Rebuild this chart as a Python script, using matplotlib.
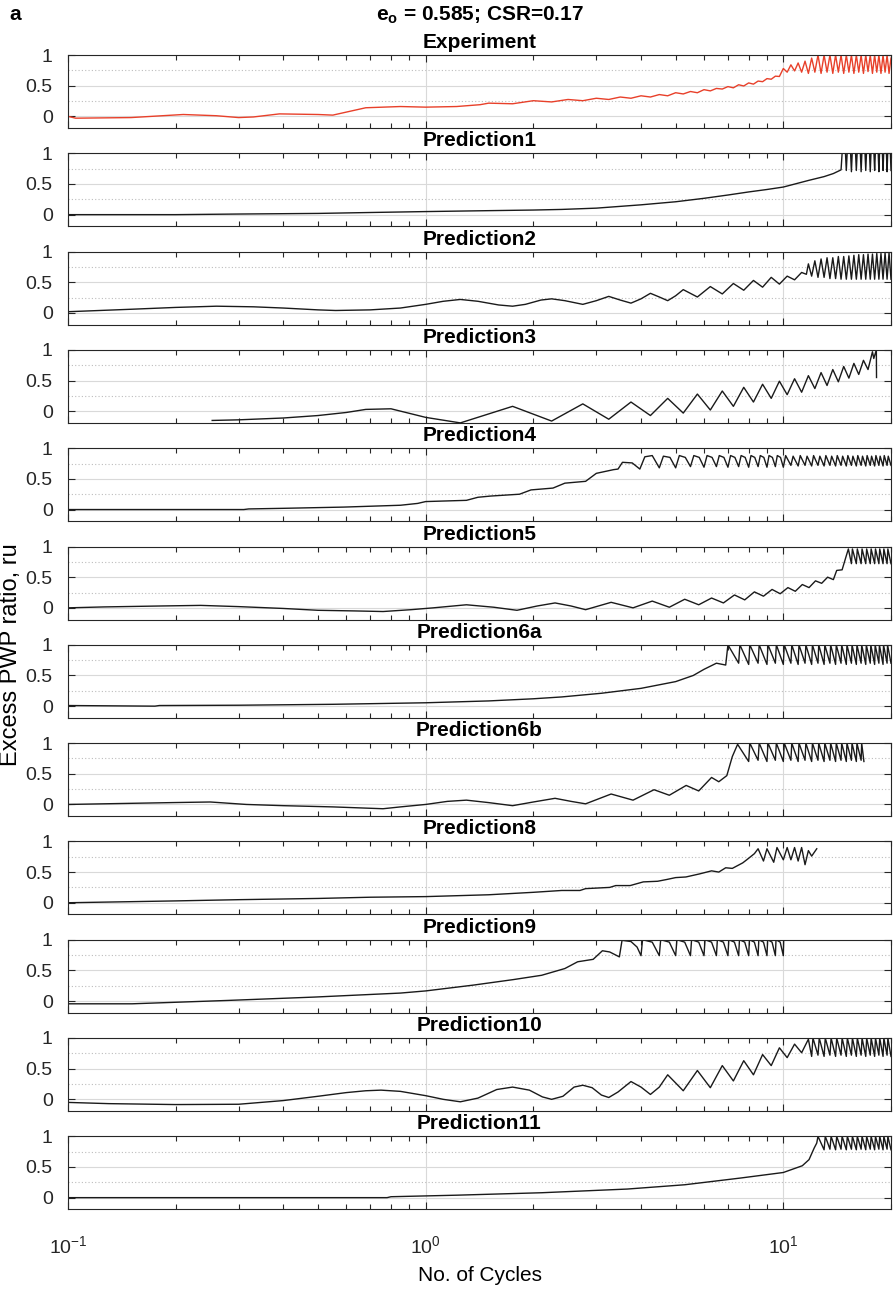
import matplotlib
matplotlib.use("Agg")
import matplotlib.pyplot as plt
from matplotlib.ticker import FixedLocator, LogLocator, NullFormatter

plt.rcParams['font.family'] = ['Liberation Sans', 'DejaVu Sans']
plt.rcParams['mathtext.fontset'] = 'custom'
plt.rcParams['mathtext.rm'] = 'Liberation Sans'
plt.rcParams['mathtext.bf'] = 'Liberation Sans:bold'

# (No. of cycles, ru), one list per panel
experiment = [
    (0.1, 0.0), (0.105, -0.03), (0.15, -0.02), (0.21, 0.03), (0.26, 0.01), (0.30, -0.02),
    (0.33, -0.01), (0.39, 0.04), (0.50, 0.03), (0.55, 0.02), (0.68, 0.14), (0.85, 0.16),
    (1.0, 0.15), (1.22, 0.16), (1.42, 0.19),
    (1.5, 0.215), (1.75, 0.205), (2.0, 0.255), (2.25, 0.235), (2.5, 0.275), (2.75, 0.255),
    (3.0, 0.295), (3.25, 0.275), (3.5, 0.315), (3.75, 0.295), (4.0, 0.335), (4.25, 0.315),
    (4.5, 0.355), (4.75, 0.335), (5.0, 0.385), (5.25, 0.365), (5.5, 0.405), (5.75, 0.385),
    (6.0, 0.435), (6.25, 0.415), (6.5, 0.455), (6.75, 0.445), (7.0, 0.485), (7.25, 0.465),
    (7.5, 0.515), (7.75, 0.495), (8.0, 0.545), (8.25, 0.525), (8.5, 0.575), (8.75, 0.565),
    (9.0, 0.615), (9.25, 0.605), (9.5, 0.655), (9.75, 0.65),
    (10.0, 0.78), (10.25, 0.72), (10.5, 0.84), (10.75, 0.74), (11.0, 0.87), (11.25, 0.72),
    (11.5, 0.90), (11.75, 0.70), (12.0, 0.95), (12.25, 0.72), (12.5, 1.0), (12.75, 0.70),
    (13.0, 1.0), (13.25, 0.72), (13.5, 1.0), (13.75, 0.70), (14.0, 1.0), (14.25, 0.72),
    (14.5, 1.0), (14.75, 0.70), (15.0, 1.0), (15.25, 0.72), (15.5, 1.0), (15.75, 0.70),
    (16.0, 1.0), (16.25, 0.72), (16.5, 1.0), (16.75, 0.70), (17.0, 1.0), (17.25, 0.73),
    (17.5, 1.0), (17.75, 0.70), (18.0, 1.0), (18.25, 0.72), (18.5, 1.0), (18.75, 0.70),
    (19.0, 1.0), (19.25, 0.72), (19.5, 1.0), (19.75, 0.70), (20.0, 0.95),
]

prediction1 = [
    (0.1, 0.0), (0.2, 0.0), (0.3, 0.01), (0.5, 0.02), (0.7, 0.035), (1.0, 0.05), (1.5, 0.065),
    (2.0, 0.075), (2.4, 0.085), (3.0, 0.106), (4.0, 0.16), (5.0, 0.21), (6.0, 0.266),
    (7.0, 0.32), (8.0, 0.37), (9.0, 0.41), (10.0, 0.45), (11.8, 0.56), (13.0, 0.62),
    (13.8, 0.67), (14.5, 0.73),
    (14.6, 1.0), (14.92, 1.0), (15.0, 0.72), (15.08, 1.0), (15.42, 1.0), (15.5, 0.70),
    (15.58, 1.0), (15.92, 1.0), (16.0, 0.72), (16.08, 1.0), (16.42, 1.0), (16.5, 0.70),
    (16.58, 1.0), (16.92, 1.0), (17.0, 0.72), (17.08, 1.0), (17.42, 1.0), (17.5, 0.70),
    (17.58, 1.0), (17.92, 1.0), (18.0, 0.72), (18.08, 1.0), (18.42, 1.0), (18.5, 0.70),
    (18.58, 1.0), (18.92, 1.0), (19.0, 0.72), (19.08, 1.0), (19.42, 1.0), (19.5, 0.70),
    (19.58, 1.0), (19.92, 1.0), (20.0, 0.72),
]

prediction2 = [
    (0.1, 0.02), (0.15, 0.06), (0.2, 0.09), (0.26, 0.11), (0.33, 0.10), (0.4, 0.08),
    (0.5, 0.05), (0.56, 0.04), (0.7, 0.05), (0.85, 0.08), (1.0, 0.14), (1.12, 0.19),
    (1.25, 0.22), (1.4, 0.19), (1.6, 0.13), (1.75, 0.11), (1.9, 0.14), (2.1, 0.21),
    (2.25, 0.23), (2.45, 0.2), (2.75, 0.14), (3.0, 0.2), (3.25, 0.27), (3.5, 0.21),
    (3.75, 0.16), (4.0, 0.23), (4.25, 0.32), (4.5, 0.26), (4.75, 0.20), (5.0, 0.28),
    (5.25, 0.38), (5.75, 0.26), (6.25, 0.43), (6.75, 0.31),
    (7.25, 0.48), (7.75, 0.37), (8.25, 0.53), (8.75, 0.42), (9.25, 0.58), (9.75, 0.47),
    (10.25, 0.60), (10.75, 0.54), (11.25, 0.66), (11.6, 0.63),
    (11.75, 0.80), (12.0, 0.60), (12.25, 0.85), (12.5, 0.58), (12.75, 0.88), (13.0, 0.58),
    (13.25, 0.90), (13.5, 0.56), (13.75, 0.90), (14.0, 0.56), (14.25, 0.92), (14.5, 0.55),
    (14.75, 0.92), (15.0, 0.55), (15.25, 0.93), (15.5, 0.55), (15.75, 0.94), (16.0, 0.55),
    (16.25, 0.95), (16.5, 0.55), (16.75, 0.95), (17.0, 0.55), (17.25, 0.96), (17.5, 0.55),
    (17.75, 0.96), (18.0, 0.55), (18.25, 0.97), (18.5, 0.55), (18.75, 0.97), (19.0, 0.55),
    (19.25, 0.98), (19.5, 0.55), (19.75, 0.98), (20.0, 0.55),
]

prediction3 = [
    (0.253, -0.15), (0.3, -0.14), (0.4, -0.11), (0.5, -0.07), (0.6, -0.02), (0.68, 0.03),
    (0.8, 0.04), (1.0, -0.10), (1.25, -0.19), (1.75, 0.08), (2.25, -0.16), (2.75, 0.12),
    (3.25, -0.13), (3.75, 0.15), (4.25, -0.07), (4.75, 0.21), (5.25, -0.03), (5.75, 0.28),
    (6.25, 0.02), (6.75, 0.33), (7.25, 0.08), (7.75, 0.39), (8.25, 0.15), (8.75, 0.44),
    (9.25, 0.21), (9.75, 0.49), (10.25, 0.27), (10.75, 0.53), (11.25, 0.31), (11.75, 0.58),
    (12.25, 0.37), (12.75, 0.63), (13.25, 0.42), (13.75, 0.68), (14.25, 0.48), (14.75, 0.73),
    (15.25, 0.54), (15.75, 0.78), (16.25, 0.60), (16.75, 0.83), (17.25, 0.68), (17.75, 0.97),
    (17.9, 0.86), (18.2, 1.0), (18.22, 0.55),
]

prediction4 = [
    (0.1, 0.0), (0.31, 0.0), (0.32, 0.01), (0.4, 0.02), (0.59, 0.04), (0.85, 0.07),
    (0.95, 0.10), (1.0, 0.13), (1.3, 0.15), (1.4, 0.20), (1.52, 0.22), (1.83, 0.25),
    (1.97, 0.32), (2.27, 0.35), (2.45, 0.43), (2.8, 0.46), (3.0, 0.59), (3.35, 0.65),
    (3.45, 0.66), (3.55, 0.77), (3.78, 0.76), (3.97, 0.66),
    (4.1, 0.86), (4.3, 0.88), (4.5, 0.68), (4.62, 0.87), (4.82, 0.85), (5.0, 0.68),
    (5.12, 0.88), (5.32, 0.85), (5.5, 0.70), (5.62, 0.88), (5.82, 0.85), (6.0, 0.69),
    (6.12, 0.88), (6.32, 0.85), (6.5, 0.70), (6.62, 0.88), (6.82, 0.85), (7.0, 0.69),
    (7.12, 0.88), (7.32, 0.85), (7.5, 0.70), (7.62, 0.88), (7.82, 0.85), (8.0, 0.69),
    (8.12, 0.88), (8.32, 0.85), (8.5, 0.70), (8.62, 0.88), (8.82, 0.85), (9.0, 0.69),
    (9.12, 0.88), (9.32, 0.85), (9.5, 0.70), (9.62, 0.88), (9.82, 0.85), (10.0, 0.69),
    (10.15, 0.88), (10.5, 0.72), (10.65, 0.87), (11.0, 0.71), (11.15, 0.88), (11.5, 0.72),
    (11.65, 0.87), (12.0, 0.71), (12.15, 0.88), (12.5, 0.72), (12.65, 0.87), (13.0, 0.71),
    (13.15, 0.88), (13.5, 0.72), (13.65, 0.87), (14.0, 0.71), (14.15, 0.88), (14.5, 0.72),
    (14.65, 0.87), (15.0, 0.71), (15.15, 0.88), (15.5, 0.72), (15.65, 0.87), (16.0, 0.71),
    (16.15, 0.88), (16.5, 0.72), (16.65, 0.87), (17.0, 0.71), (17.15, 0.88), (17.5, 0.72),
    (17.65, 0.87), (18.0, 0.71), (18.15, 0.88), (18.5, 0.72), (18.65, 0.87), (19.0, 0.71),
    (19.15, 0.88), (19.5, 0.72), (19.65, 0.87), (20.0, 0.72),
]

prediction5 = [
    (0.1, 0.0), (0.126, 0.015), (0.18, 0.03), (0.235, 0.04), (0.3, 0.02), (0.4, -0.01),
    (0.5, -0.04), (0.63, -0.05), (0.76, -0.06), (0.91, -0.03), (1.05, 0.0), (1.3, 0.05),
    (1.55, 0.01), (1.8, -0.04), (2.05, 0.03), (2.3, 0.08), (2.55, 0.03), (2.8, -0.03),
    (3.3, 0.09), (3.8, 0.0), (4.3, 0.11), (4.8, 0.01), (5.3, 0.14), (5.8, 0.05),
    (6.3, 0.16), (6.8, 0.08), (7.3, 0.21), (7.8, 0.13), (8.3, 0.26), (8.8, 0.19),
    (9.3, 0.30), (9.8, 0.23), (10.3, 0.33), (10.8, 0.27), (11.3, 0.38), (11.8, 0.33),
    (12.3, 0.44), (12.8, 0.40), (13.3, 0.50), (13.8, 0.46), (14.1, 0.61), (14.6, 0.62),
    (15.0, 0.85), (15.2, 0.96), (15.5, 0.72), (15.6, 0.96), (16.0, 0.72), (16.1, 0.96),
    (16.5, 0.72), (16.6, 0.96), (17.0, 0.72), (17.1, 0.96), (17.5, 0.72), (17.6, 0.96),
    (18.0, 0.72), (18.1, 0.96), (18.5, 0.72), (18.6, 0.96), (19.0, 0.72), (19.1, 0.96),
    (19.5, 0.72), (19.6, 0.96), (20.0, 0.72),
]

prediction6a = [
    (0.1, 0.01), (0.175, 0.0), (0.18, 0.01), (0.3, 0.015), (0.55, 0.03), (1.0, 0.055),
    (1.5, 0.085), (2.0, 0.12), (2.4, 0.15), (3.1, 0.21), (4.0, 0.29), (5.0, 0.40),
    (5.6, 0.50), (6.0, 0.60), (6.5, 0.70), (6.9, 0.67), (7.0, 1.0),
    (7.5, 0.70), (7.56, 1.0), (8.0, 0.68), (8.06, 1.0), (8.5, 0.70), (8.56, 1.0),
    (9.0, 0.68), (9.06, 1.0), (9.5, 0.70), (9.56, 1.0), (10.0, 0.68), (10.06, 1.0),
    (10.5, 0.70), (10.56, 1.0), (11.0, 0.68), (11.06, 1.0), (11.5, 0.70), (11.56, 1.0),
    (12.0, 0.68), (12.06, 1.0), (12.5, 0.70), (12.56, 1.0), (13.0, 0.68), (13.06, 1.0),
    (13.5, 0.70), (13.56, 1.0), (14.0, 0.68), (14.06, 1.0), (14.5, 0.70), (14.56, 1.0),
    (15.0, 0.68), (15.06, 1.0), (15.5, 0.70), (15.56, 1.0), (16.0, 0.68), (16.06, 1.0),
    (16.5, 0.70), (16.56, 1.0), (17.0, 0.68), (17.06, 1.0), (17.5, 0.70), (17.56, 1.0),
    (18.0, 0.68), (18.06, 1.0), (18.5, 0.70), (18.56, 1.0), (19.0, 0.68), (19.06, 1.0),
    (19.5, 0.70), (19.56, 1.0), (20.0, 0.70),
]

prediction6b = [
    (0.1, 0.0), (0.195, 0.03), (0.25, 0.04), (0.315, 0.0), (0.4, -0.02), (0.55, -0.04),
    (0.76, -0.07), (0.85, -0.04), (1.0, 0.0), (1.15, 0.05), (1.3, 0.07), (1.5, 0.03),
    (1.75, -0.02), (2.0, 0.04), (2.3, 0.10), (2.55, 0.05), (2.8, 0.01), (3.3, 0.17),
    (3.8, 0.07), (4.35, 0.24), (4.8, 0.15), (5.35, 0.31), (5.8, 0.22), (6.3, 0.44),
    (6.6, 0.37), (6.95, 0.47), (7.2, 0.78), (7.45, 0.98),
    (8.0, 0.70), (8.06, 1.0), (8.5, 0.72), (8.56, 1.0), (9.0, 0.70), (9.06, 1.0),
    (9.5, 0.72), (9.56, 1.0), (10.0, 0.70), (10.06, 1.0), (10.5, 0.72), (10.56, 1.0),
    (11.0, 0.70), (11.06, 1.0), (11.5, 0.72), (11.56, 1.0), (12.0, 0.70), (12.06, 1.0),
    (12.5, 0.72), (12.56, 1.0), (13.0, 0.70), (13.06, 1.0), (13.5, 0.72), (13.56, 1.0),
    (14.0, 0.70), (14.06, 1.0), (14.5, 0.72), (14.56, 1.0), (15.0, 0.70), (15.06, 1.0),
    (15.5, 0.72), (15.56, 1.0), (16.0, 0.70), (16.06, 1.0), (16.5, 0.72), (16.56, 1.0),
    (16.8, 0.70),
]

prediction8 = [
    (0.1, 0.0), (0.2, 0.03), (0.3, 0.05), (0.5, 0.07), (0.7, 0.09), (1.0, 0.10), (1.5, 0.13),
    (2.0, 0.17), (2.4, 0.20), (2.7, 0.20), (2.8, 0.23), (3.27, 0.25), (3.4, 0.28),
    (3.73, 0.28), (4.06, 0.34), (4.45, 0.35), (4.73, 0.38), (5.0, 0.41), (5.34, 0.42),
    (5.83, 0.47), (6.3, 0.52), (6.6, 0.50), (6.9, 0.57), (7.2, 0.56), (7.7, 0.65),
    (7.9, 0.70), (8.3, 0.80), (8.5, 0.88), (8.8, 0.68), (9.0, 0.88), (9.4, 0.66),
    (9.6, 0.90), (10.0, 0.70), (10.25, 0.90), (10.5, 0.70), (10.75, 0.90), (11.0, 0.68),
    (11.25, 0.90), (11.5, 0.62), (11.75, 0.85), (12.0, 0.76), (12.4, 0.88),
]

prediction9 = [
    (0.1, -0.045), (0.151, -0.045), (0.28, 0.01), (0.49, 0.065), (0.85, 0.13), (1.0, 0.165),
    (1.36, 0.26), (1.76, 0.35), (2.11, 0.42), (2.45, 0.53), (2.66, 0.64), (2.94, 0.68),
    (3.12, 0.82), (3.27, 0.80), (3.48, 0.72), (3.54, 0.99), (3.75, 0.97), (3.9, 0.88),
    (4.0, 0.74),
    (4.04, 1.0), (4.3, 0.96), (4.5, 0.74), (4.54, 1.0), (4.8, 0.96), (5.0, 0.74),
    (5.04, 1.0), (5.3, 0.96), (5.5, 0.74), (5.54, 1.0), (5.8, 0.96), (6.0, 0.74),
    (6.04, 1.0), (6.3, 0.96), (6.5, 0.74), (6.54, 1.0), (6.8, 0.96), (7.0, 0.74),
    (7.04, 1.0), (7.3, 0.96), (7.5, 0.74), (7.54, 1.0), (7.8, 0.96), (8.0, 0.74),
    (8.04, 1.0), (8.3, 0.96), (8.5, 0.74), (8.54, 1.0), (8.8, 0.96), (9.0, 0.74),
    (9.04, 1.0), (9.3, 0.96), (9.5, 0.74), (9.54, 1.0), (9.8, 0.96), (10.0, 0.74),
    (10.02, 0.98),
]

prediction10 = [
    (0.1, -0.05), (0.13, -0.07), (0.2, -0.085), (0.3, -0.08), (0.4, -0.02), (0.5, 0.05),
    (0.6, 0.11), (0.68, 0.14), (0.75, 0.15), (0.85, 0.13), (1.0, 0.06), (1.12, 0.0),
    (1.25, -0.04), (1.4, 0.02), (1.58, 0.16), (1.75, 0.20), (1.95, 0.15), (2.12, 0.04),
    (2.25, 0.0), (2.42, 0.05), (2.6, 0.2), (2.75, 0.23), (2.92, 0.19), (3.1, 0.07),
    (3.25, 0.03), (3.45, 0.12), (3.75, 0.29), (4.0, 0.2), (4.25, 0.08), (4.5, 0.2),
    (4.75, 0.40), (5.25, 0.14), (5.75, 0.47), (6.25, 0.19),
    (6.75, 0.55), (7.25, 0.30), (7.75, 0.63), (8.25, 0.40), (8.75, 0.73), (9.25, 0.55),
    (9.75, 0.84), (10.25, 0.68), (10.75, 0.90), (11.25, 0.76), (11.75, 0.98),
    (12.0, 0.70), (12.1, 1.0), (12.5, 0.72), (12.6, 1.0), (13.0, 0.70), (13.1, 1.0),
    (13.5, 0.72), (13.6, 1.0), (14.0, 0.70), (14.1, 1.0), (14.5, 0.72), (14.6, 1.0),
    (15.0, 0.70), (15.1, 1.0), (15.5, 0.72), (15.6, 1.0), (16.0, 0.70), (16.1, 1.0),
    (16.5, 0.72), (16.6, 1.0), (17.0, 0.70), (17.1, 1.0), (17.5, 0.72), (17.6, 1.0),
    (18.0, 0.70), (18.1, 1.0), (18.5, 0.72), (18.6, 1.0), (19.0, 0.70), (19.1, 1.0),
    (19.5, 0.72), (19.6, 1.0), (20.0, 0.70),
]

prediction11 = [
    (0.1, 0.0), (0.78, 0.0), (0.8, 0.015), (1.22, 0.04), (2.11, 0.08), (3.66, 0.14),
    (5.3, 0.21), (7.6, 0.32), (10.0, 0.41), (11.3, 0.52), (11.8, 0.62), (12.2, 0.81),
    (12.4, 0.89), (12.5, 1.0), (13.0, 0.78), (13.1, 1.0), (13.5, 0.79), (13.6, 1.0),
    (14.0, 0.78), (14.1, 1.0), (14.5, 0.79), (14.6, 1.0), (15.0, 0.78), (15.1, 1.0),
    (15.5, 0.79), (15.6, 1.0), (16.0, 0.78), (16.1, 1.0), (16.5, 0.79), (16.6, 1.0),
    (17.0, 0.78), (17.1, 1.0), (17.5, 0.79), (17.6, 1.0), (18.0, 0.78), (18.1, 1.0),
    (18.5, 0.79), (18.6, 1.0), (19.0, 0.78), (19.1, 1.0), (19.5, 0.79), (19.6, 1.0),
    (20.0, 0.78),
]

titles = ['Experiment', 'Prediction1', 'Prediction2', 'Prediction3', 'Prediction4',
          'Prediction5', 'Prediction6a', 'Prediction6b', 'Prediction8', 'Prediction9',
          'Prediction10', 'Prediction11']
traces = [experiment, prediction1, prediction2, prediction3, prediction4, prediction5,
          prediction6a, prediction6b, prediction8, prediction9, prediction10, prediction11]
ytick_vals = [0, 0.5, 1]
ytick_labels = ['0', '0.5', '1']

fig = plt.figure(figsize=(8.94, 13.01), dpi=100)
W, H = 894, 1301

for i, (title, trace) in enumerate(zip(titles, traces)):
    top = 55 + 98.3 * i
    ax = fig.add_axes([68 / W, 1 - (top + 73) / H, 823 / W, 73 / H])
    n, ru = zip(*trace)
    color = '#e8402a' if i == 0 else '#1a1a1a'
    ax.plot(n, ru, color=color, lw=1.0)

    ax.set_xscale('log')
    ax.set_xlim(0.1, 20)
    ax.set_ylim(-0.19, 1)
    ax.set_yticks(ytick_vals)
    ax.set_yticklabels(ytick_labels)
    ax.yaxis.set_minor_locator(FixedLocator([0.25, 0.75]))
    ax.xaxis.set_major_locator(LogLocator(base=10, numticks=10))
    ax.xaxis.set_minor_locator(LogLocator(base=10, subs=range(2, 10), numticks=20))
    ax.xaxis.set_minor_formatter(NullFormatter())

    ax.set_axisbelow(True)
    ax.grid(which='major', color='#d9d9d9', lw=0.8)
    ax.grid(which='minor', axis='y', color='#bdbdbd', ls=(0, (1, 2)), lw=0.8)
    ax.tick_params(which='both', direction='in', top=True, right=True, width=0.8,
                   colors='#262626', labelsize=14)
    ax.tick_params(which='major', length=5)
    ax.tick_params(which='minor', axis='x', length=3.5)
    ax.tick_params(which='minor', axis='y', length=0)
    ax.tick_params(axis='y', pad=11)
    ax.tick_params(axis='x', pad=19)
    for sp in ax.spines.values():
        sp.set_color('#262626')
        sp.set_linewidth(0.8)

    ax.set_title(title, fontweight='bold', fontsize=15, pad=5)
    if i < len(titles) - 1:
        ax.tick_params(labelbottom=False)
    else:
        ax.set_xlabel('No. of Cycles', fontsize=15, labelpad=6)

fig.text(480 / W, 1 - 15 / H, r'$\mathbf{e_o}$ = 0.585; CSR=0.17', ha='center', va='center',
         fontsize=15, fontweight='bold')
fig.text(9 / W, 1 - 15 / H, 'a', ha='left', va='center', fontsize=15, fontweight='bold')
fig.text(11 / W, 1 - 655 / H, 'Excess PWP ratio, ru', rotation=90, ha='center', va='center',
         fontsize=17)

fig.savefig('out.png', dpi=100)
